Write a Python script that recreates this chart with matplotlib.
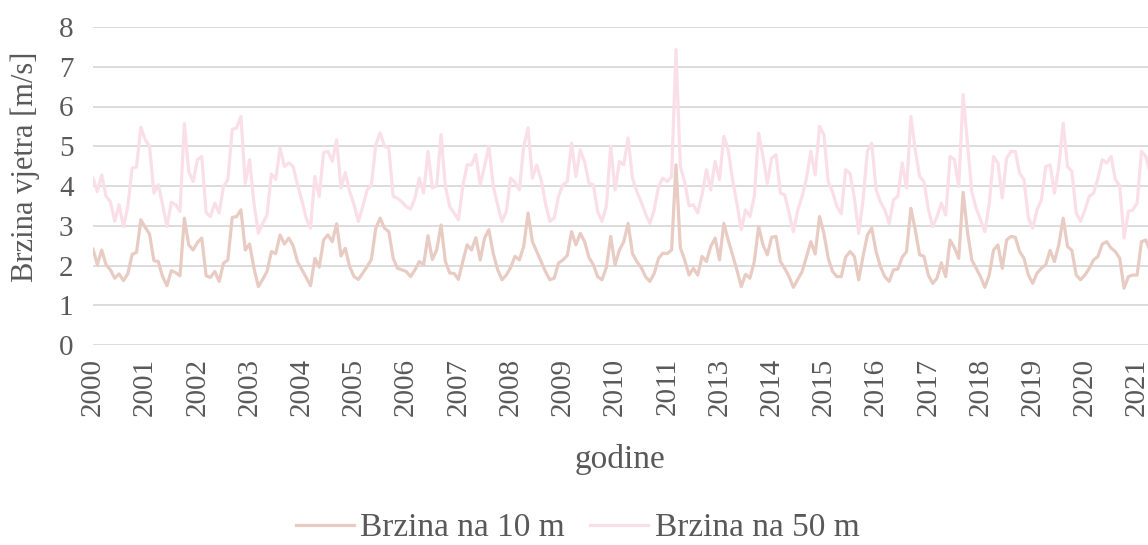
import matplotlib.pyplot as plt

# monthly mean wind speed [m/s]
speed_10m = [
    2.41, 2.02, 2.39, 2.02, 1.89, 1.68, 1.79, 1.62, 1.79, 2.28, 2.33, 3.15,
    2.96, 2.79, 2.12, 2.10, 1.72, 1.49, 1.87, 1.82, 1.74, 3.19, 2.52, 2.39,
    2.58, 2.69, 1.74, 1.70, 1.85, 1.60, 2.06, 2.14, 3.21, 3.23, 3.40, 2.39,
    2.54, 1.93, 1.47, 1.65, 1.85, 2.35, 2.30, 2.77, 2.54, 2.69, 2.50, 2.10,
    1.90, 1.70, 1.49, 2.18, 1.96, 2.64, 2.77, 2.60, 3.05, 2.24, 2.43, 1.97,
    1.72, 1.65, 1.81, 1.97, 2.16, 2.94, 3.19, 2.94, 2.85, 2.18, 1.93, 1.89,
    1.85, 1.72, 1.89, 2.10, 2.02, 2.75, 2.15, 2.39, 3.02, 2.10, 1.81, 1.80,
    1.65, 2.10, 2.52, 2.39, 2.70, 2.14, 2.69, 2.90, 2.30, 1.90, 1.64, 1.76,
    1.95, 2.23, 2.14, 2.48, 3.32, 2.60, 2.35, 2.10, 1.85, 1.64, 1.68, 2.06,
    2.14, 2.25, 2.85, 2.52, 2.81, 2.60, 2.20, 2.02, 1.72, 1.64, 1.95, 2.73,
    2.02, 2.39, 2.60, 3.06, 2.30, 2.10, 1.95, 1.72, 1.60, 1.80, 2.18, 2.31,
    2.30, 2.39, 4.53, 2.45, 2.14, 1.76, 1.93, 1.76, 2.23, 2.10, 2.48, 2.69,
    2.14, 3.06, 2.64, 2.27, 1.89, 1.47, 1.78, 1.68, 2.10, 2.98, 2.52, 2.27,
    2.71, 2.73, 2.10, 1.93, 1.72, 1.45, 1.65, 1.85, 2.22, 2.60, 2.29, 3.23,
    2.81, 2.18, 1.85, 1.72, 1.72, 2.21, 2.35, 2.23, 1.64, 2.23, 2.77, 2.94,
    2.35, 1.97, 1.72, 1.60, 1.89, 1.91, 2.21, 2.35, 3.44, 2.90, 2.27, 2.23,
    1.76, 1.55, 1.68, 2.07, 1.72, 2.64, 2.45, 2.18, 3.84, 2.85, 2.14, 1.93,
    1.72, 1.45, 1.76, 2.39, 2.52, 1.93, 2.64, 2.73, 2.71, 2.35, 2.18, 1.76,
    1.55, 1.81, 1.93, 2.02, 2.38, 2.10, 2.52, 3.19, 2.48, 2.38, 1.76, 1.64,
    1.76, 1.93, 2.14, 2.23, 2.54, 2.60, 2.44, 2.35, 2.18, 1.43, 1.72, 1.76,
    1.76, 2.60, 2.64, 2.35]

speed_50m = [
    4.20, 3.86, 4.28, 3.74, 3.61, 3.11, 3.53, 2.98, 3.48, 4.45, 4.48, 5.48,
    5.16, 5.00, 3.82, 4.03, 3.53, 2.98, 3.59, 3.53, 3.36, 5.57, 4.37, 4.11,
    4.66, 4.74, 3.33, 3.23, 3.57, 3.32, 3.99, 4.16, 5.42, 5.46, 5.75, 4.07,
    4.66, 3.57, 2.81, 3.06, 3.27, 4.30, 4.17, 4.95, 4.49, 4.58, 4.49, 4.03,
    3.64, 3.19, 2.94, 4.24, 3.74, 4.84, 4.87, 4.62, 5.16, 3.95, 4.34, 3.86,
    3.53, 3.11, 3.48, 3.90, 4.03, 5.04, 5.33, 5.00, 4.95, 3.74, 3.69, 3.60,
    3.48, 3.42, 3.69, 4.20, 3.82, 4.87, 3.95, 4.00, 5.29, 3.99, 3.48, 3.32,
    3.15, 3.99, 4.53, 4.53, 4.79, 4.03, 4.50, 5.00, 4.00, 3.53, 3.11, 3.36,
    4.20, 4.09, 3.90, 5.00, 5.46, 4.20, 4.53, 4.16, 3.57, 3.11, 3.19, 3.74,
    4.03, 4.11, 5.08, 4.24, 4.91, 4.60, 4.07, 4.03, 3.36, 3.11, 3.50, 5.00,
    3.90, 4.62, 4.53, 5.21, 4.20, 3.86, 3.60, 3.30, 3.06, 3.40, 3.99, 4.20,
    4.11, 4.24, 7.43, 4.49, 4.10, 3.50, 3.53, 3.32, 3.78, 4.41, 3.90, 4.62,
    4.16, 5.25, 4.91, 4.16, 3.57, 2.90, 3.40, 3.23, 3.74, 5.33, 4.74, 4.07,
    4.70, 4.79, 3.82, 3.78, 3.32, 2.85, 3.40, 3.74, 4.20, 4.87, 4.28, 5.50,
    5.29, 4.11, 3.85, 3.48, 3.30, 4.41, 4.32, 3.70, 2.81, 3.65, 4.87, 5.08,
    3.90, 3.60, 3.40, 3.06, 3.65, 3.74, 4.58, 3.95, 5.75, 4.91, 4.24, 4.11,
    3.42, 2.98, 3.23, 3.57, 3.27, 4.74, 4.66, 3.99, 6.30, 5.08, 3.85, 3.44,
    3.15, 2.85, 3.55, 4.74, 4.58, 3.70, 4.70, 4.87, 4.87, 4.32, 4.16, 3.20,
    2.94, 3.40, 3.65, 4.49, 4.53, 3.82, 4.49, 5.58, 4.49, 4.37, 3.32, 3.11,
    3.40, 3.74, 3.82, 4.20, 4.66, 4.58, 4.74, 4.16, 4.00, 2.69, 3.36, 3.40,
    3.57, 4.87, 4.74, 4.32]

# category labels, one every 12 months (2012 is missing in the source)
year_labels = ['2000', '2001', '2002', '2003', '2004', '2005', '2006', '2007',
               '2008', '2009', '2010', '2011', '2013', '2014', '2015', '2016',
               '2017', '2018', '2019', '2020', '2021']

plt.rcParams['font.family'] = ['Liberation Serif', 'DejaVu Serif']
txt = '#595959'
fs = 21

fig = plt.figure(figsize=(11.48, 5.45), dpi=100)
ax = fig.add_axes([93 / 1148, 200 / 545, 1055 / 1148, 318 / 545])

months = range(len(speed_10m))
ax.plot(months, speed_10m, color='#e8cbc3', linewidth=2.3,
        label='Brzina na 10 m', solid_joinstyle='round')
ax.plot(months, speed_50m, color='#fadfe8', linewidth=2.3,
        label='Brzina na 50 m', solid_joinstyle='round')

ax.set_ylim(0, 8)
ax.set_xlim(0, 242.5)
ax.set_yticks(range(0, 9))
ax.set_xticks(range(0, 12 * len(year_labels), 12))
ax.set_xticklabels(year_labels, rotation=90)
ax.tick_params(axis='both', length=0, labelsize=fs, labelcolor=txt)
ax.tick_params(axis='x', pad=9)
ax.tick_params(axis='y', pad=14)

ax.grid(axis='y', color='#d9d9d9', linewidth=1.3)
ax.set_axisbelow(True)
for s in ax.spines.values():
    s.set_visible(False)

ax.set_ylabel('Brzina vjetra [m/s]', fontsize=22, color=txt)
ax.yaxis.set_label_coords(-0.05, 0.56)
ax.set_xlabel('godine', fontsize=24, color=txt)
ax.xaxis.set_label_coords(0.5, -0.31)

fig.legend(loc='center', bbox_to_anchor=(0.503, 1 - 528 / 545), ncol=2,
           frameon=False, fontsize=24, labelcolor=txt, handlelength=1.74,
           handletextpad=0.2, columnspacing=0.75)

fig.savefig('out.png', dpi=100)
